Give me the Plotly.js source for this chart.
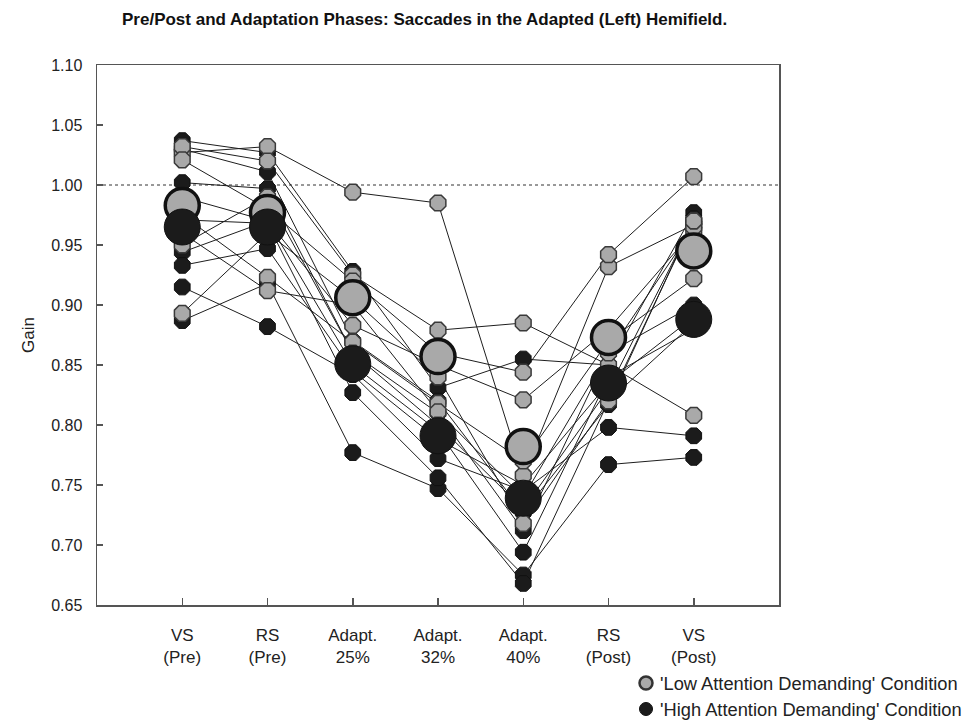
<!DOCTYPE html>
<html>
<head>
<meta charset="utf-8">
<script src="https://cdn.plot.ly/plotly-3.0.1.min.js"></script>
<style>html,body{margin:0;padding:0;background:#fff;}#chart{width:971px;height:722px;}</style>
</head>
<body>
<div id="chart"></div>
<script>
// Phases (x categories)
var phases = ["VS<br>(Pre)", "RS<br>(Pre)", "Adapt.<br>25%", "Adapt.<br>32%", "Adapt.<br>40%", "RS<br>(Post)", "VS<br>(Post)"];

// Legend labels
var legendLabels = ["'Low Attention Demanding' Condition", "'High Attention Demanding' Condition"];

// 'Low Attention Demanding' condition: individual subjects' gains
var lowS1 = [1.027, 1.032, 0.994, 0.985, 0.758, 0.932, 0.967];
var lowS2 = [1.032, 1.020, 0.925, 0.879, 0.885, 0.850, 0.808];
var lowS3 = [1.021, 0.980, 0.920, 0.860, 0.844, 0.942, 1.007];
var lowS4 = [0.990, 0.970, 0.883, 0.850, 0.821, 0.880, 0.962];
var lowS5 = [0.975, 0.923, 0.869, 0.818, 0.770, 0.870, 0.922];
var lowS6 = [0.960, 0.912, 0.900, 0.811, 0.740, 0.860, 0.965];
var lowS7 = [0.950, 0.990, 0.860, 0.800, 0.730, 0.830, 0.970];
var lowS8 = [0.893, 0.960, 0.905, 0.840, 0.718, 0.820, 0.970];

// 'High Attention Demanding' condition: individual subjects' gains
var highS1 = [1.037, 1.027, 0.928, 0.831, 0.855, 0.850, 0.977];
var highS2 = [1.030, 1.011, 0.870, 0.820, 0.727, 0.817, 0.972];
var highS3 = [1.002, 0.997, 0.860, 0.810, 0.712, 0.860, 0.900];
var highS4 = [0.944, 0.970, 0.850, 0.795, 0.694, 0.840, 0.880];
var highS5 = [0.933, 0.947, 0.845, 0.788, 0.750, 0.835, 0.890];
var highS6 = [0.915, 0.882, 0.842, 0.772, 0.745, 0.798, 0.791];
var highS7 = [0.887, 0.918, 0.777, 0.747, 0.675, 0.767, 0.773];
var highS8 = [0.971, 0.968, 0.827, 0.756, 0.668, 0.820, 0.885];

// Group means
var lowMean  = [0.983, 0.977, 0.906, 0.857, 0.782, 0.873, 0.945];
var highMean = [0.965, 0.965, 0.851, 0.791, 0.739, 0.835, 0.888];

var lowSubjects  = [lowS1, lowS2, lowS3, lowS4, lowS5, lowS6, lowS7, lowS8];
var highSubjects = [highS1, highS2, highS3, highS4, highS5, highS6, highS7, highS8];

var GRAY = "#a9a9a9";
var BLACK = "#1b1b1b";
var traces = [];

// Lines connecting each subject
lowSubjects.concat(highSubjects).forEach(function (s) {
  traces.push({
    type: "scatter", mode: "lines", x: phases, y: s,
    line: {color: "#1e1e1e", width: 1}, showlegend: false, hoverinfo: "skip"
  });
});

function flatX(groups) { var a = []; groups.forEach(function (s) { s.forEach(function (v, i) { a.push(phases[i]); }); }); return a; }
function flatY(groups) { var a = []; groups.forEach(function (s) { s.forEach(function (v) { a.push(v); }); }); return a; }

// Individual markers
traces.push({
  type: "scatter", mode: "markers", x: flatX(highSubjects), y: flatY(highSubjects),
  marker: {symbol: "octagon", size: 17, color: BLACK, line: {color: "#111", width: 1}},
  name: legendLabels[1], showlegend: false
});
traces.push({
  type: "scatter", mode: "markers", x: flatX(lowSubjects), y: flatY(lowSubjects),
  marker: {symbol: "octagon", size: 17, color: GRAY, line: {color: "#3a3a3a", width: 1.5}},
  name: legendLabels[0], showlegend: false
});

// Means
traces.push({
  type: "scatter", mode: "markers", x: phases, y: lowMean,
  marker: {symbol: "circle", size: 34, color: GRAY, line: {color: "#111", width: 3.5}},
  showlegend: false
});
traces.push({
  type: "scatter", mode: "markers", x: phases, y: highMean,
  marker: {symbol: "circle", size: 36, color: BLACK, line: {color: "#111", width: 1}},
  showlegend: false
});

// Plot area in pixels (for placing the legend below-right)
var L = 97, R = 192, T = 65, B = 117, W = 971, H = 722;
var pw = W - L - R, ph = H - T - B;
function px2x(px) { return (px - L) / pw; }
function px2y(py) { return (H - B - py) / ph; }

var legendRows = [
  {py: 683, fill: GRAY, line: "#333", lw: 2.5},
  {py: 709, fill: BLACK, line: "#111", lw: 1}
];
var shapes = [{
  type: "line", xref: "paper", x0: 0, x1: 1, yref: "y", y0: 1.0, y1: 1.0,
  line: {color: "#333", width: 1, dash: "dot"}, layer: "below"
}];
var annotations = [];
legendRows.forEach(function (r, i) {
  shapes.push({
    type: "circle", xref: "paper", yref: "paper",
    xsizemode: "pixel", ysizemode: "pixel",
    xanchor: px2x(646), yanchor: px2y(r.py),
    x0: -6.5, x1: 6.5, y0: -6.5, y1: 6.5,
    fillcolor: r.fill, line: {color: r.line, width: r.lw}
  });
  annotations.push({
    xref: "paper", yref: "paper", x: px2x(658), y: px2y(r.py),
    xanchor: "left", yanchor: "middle", showarrow: false,
    text: legendLabels[i], font: {size: 18.3, color: "#222"}
  });
});

var layout = {
  width: W, height: H,
  margin: {l: L, r: R, t: T, b: B},
  paper_bgcolor: "#fff", plot_bgcolor: "#fff",
  font: {family: "Liberation Sans, Arial, sans-serif", size: 17, color: "#222"},
  title: {
    text: "<b>Pre/Post and Adaptation Phases: Saccades in the Adapted (Left) Hemifield.</b>",
    font: {size: 17, color: "#111"}, x: 122 / W, xanchor: "left", xref: "container",
    y: 1 - 19 / H, yanchor: "middle", yref: "container"
  },
  xaxis: {
    type: "category", range: [-1, 7],
    showgrid: false, zeroline: false,
    showline: true, linecolor: "#555", linewidth: 1.5, mirror: true,
    ticks: "inside", ticklen: 7, tickcolor: "#555", tickwidth: 1.5,
    ticklabelstandoff: 14,
    tickfont: {size: 17, color: "#222"}
  },
  yaxis: {
    range: [0.65, 1.10], tickvals: [0.65, 0.70, 0.75, 0.80, 0.85, 0.90, 0.95, 1.00, 1.05, 1.10],
    tickformat: ".2f",
    showgrid: false, zeroline: false,
    showline: true, linecolor: "#555", linewidth: 1.5, mirror: true,
    ticks: "inside", ticklen: 6, tickcolor: "#555", tickwidth: 1.5,
    ticklabelstandoff: 10,
    tickfont: {size: 16, color: "#222"},
    title: {text: "Gain", font: {size: 17, color: "#222"}, standoff: 12}
  },
  shapes: shapes,
  annotations: annotations,
  showlegend: false
};

Plotly.newPlot("chart", traces, layout, {displayModeBar: false, staticPlot: true});
</script>
</body>
</html>
